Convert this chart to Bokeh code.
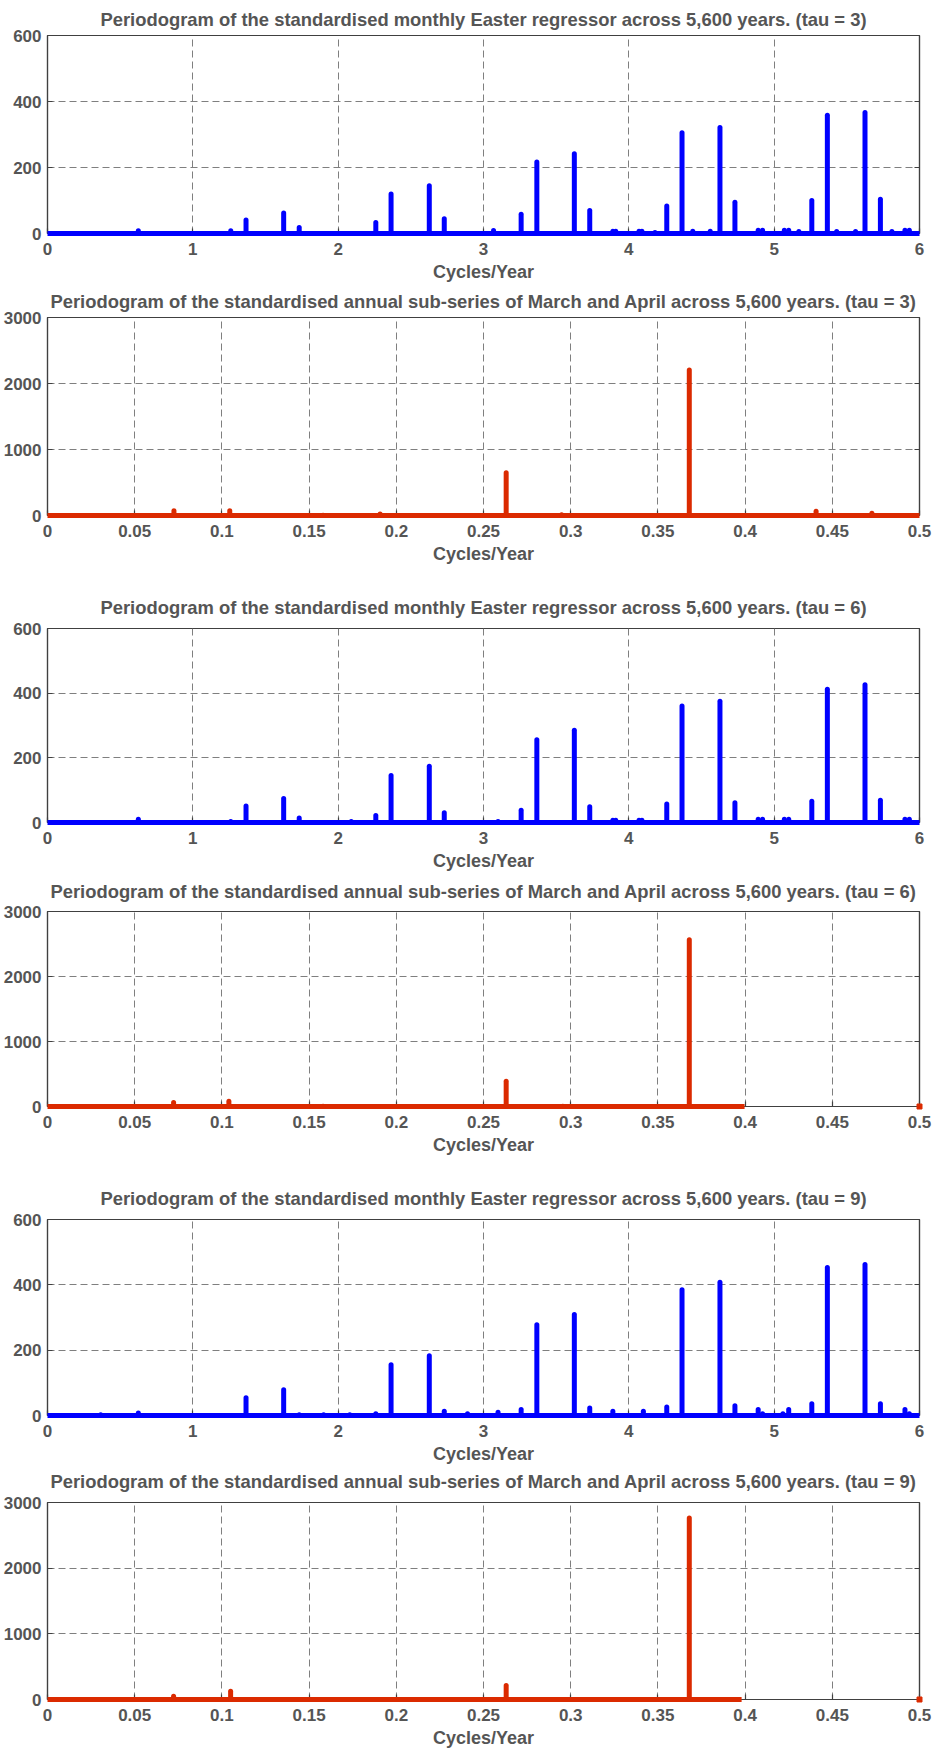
from bokeh.plotting import figure
from bokeh.models import LinearAxis, FixedTicker, Range1d
from bokeh.layouts import column
from bokeh.embed import file_html
from bokeh.resources import INLINE

FONT = "Liberation Sans"
TEXT = "#555555"
FRAME = "#404040"
GRID = "#7f7f7f"
BLUE = "#0000ff"
RED = "#db2a00"

BLUE_TITLE = "Periodogram of the standardised monthly Easter regressor across 5,600 years. (tau = {})"
RED_TITLE = "Periodogram of the standardised annual sub-series of March and April across 5,600 years. (tau = {})"
X_LABEL = "Cycles/Year"

# ---------------- axes ----------------
blue_x_ticks = [0, 1, 2, 3, 4, 5, 6]
blue_y_ticks = [0, 200, 400, 600]
red_x_ticks = [0, 0.05, 0.1, 0.15, 0.2, 0.25, 0.3, 0.35, 0.4, 0.45, 0.5]
red_x_labels = ["0", "0.05", "0.1", "0.15", "0.2", "0.25", "0.3", "0.35", "0.4", "0.45", "0.5"]
red_y_ticks = [0, 1000, 2000, 3000]

# ---------------- monthly Easter regressor periodograms (blue) ----------------
blue_span = [0, 6]

blue_f_tau3 = [0.625, 1.261, 1.366, 1.625, 1.732, 2.259, 2.364, 2.627, 2.730, 3.069, 3.259, 3.367,
               3.625, 3.731, 3.89, 3.91, 4.07, 4.09, 4.18, 4.261, 4.366, 4.44, 4.56, 4.627, 4.730,
               4.89, 4.92, 5.07, 5.10, 5.17, 5.259, 5.366, 5.43, 5.56, 5.625, 5.731, 5.81, 5.90, 5.93]
blue_v_tau3 = [8, 8, 41, 62, 18, 33, 120, 145, 45, 9, 58, 217,
               242, 70, 7, 7, 7, 7, 3, 83, 305, 7, 7, 321, 95,
               10, 10, 10, 10, 6, 100, 358, 6, 6, 367, 104, 6, 10, 10]

blue_f_tau6 = [0.625, 1.261, 1.366, 1.625, 1.732, 2.09, 2.259, 2.364, 2.627, 2.730, 3.10, 3.259,
               3.367, 3.625, 3.731, 3.89, 3.91, 4.07, 4.09, 4.261, 4.366, 4.627, 4.730, 4.89,
               4.92, 5.07, 5.10, 5.259, 5.366, 5.625, 5.731, 5.90, 5.93]
blue_v_tau6 = [10, 3, 51, 74, 14, 3, 22, 145, 174, 30, 3, 38,
               256, 285, 49, 7, 7, 7, 7, 57, 360, 375, 61, 10,
               10, 10, 10, 66, 412, 426, 69, 10, 10]

blue_f_tau9 = [0.366, 0.625, 1.366, 1.625, 1.732, 1.90, 2.08, 2.259, 2.364, 2.627, 2.730, 2.89,
               3.10, 3.259, 3.367, 3.625, 3.731, 3.89, 4.10, 4.261, 4.366, 4.627, 4.730, 4.89,
               4.92, 5.06, 5.10, 5.259, 5.366, 5.625, 5.731, 5.90, 5.93]
blue_v_tau9 = [2, 8, 54, 79, 2, 2, 2, 5, 155, 183, 13, 5,
               10, 18, 278, 309, 23, 13, 13, 26, 385, 408, 30, 18,
               5, 5, 18, 36, 453, 462, 36, 18, 5]

# ---------------- annual March/April sub-series periodograms (red) ----------------
red_span_tau3 = [0, 0.5]
red_f_tau3 = [0.0725, 0.1045, 0.158, 0.1907, 0.263, 0.2948, 0.368, 0.4407, 0.4727]
red_v_tau3 = [73, 73, 5, 23, 648, 13, 2203, 63, 33]
red_iso_f_tau3 = []
red_iso_v_tau3 = []

red_span_tau6 = [0, 0.3997]
red_f_tau6 = [0.0723, 0.104, 0.158, 0.263, 0.2955, 0.368]
red_v_tau6 = [60, 80, 5, 390, 5, 2564]
red_iso_f_tau6 = [0.5]
red_iso_v_tau6 = [0]

red_span_tau9 = [0, 0.398]
red_f_tau9 = [0.0723, 0.105, 0.263, 0.368]
red_v_tau9 = [48, 124, 214, 2765]
red_iso_f_tau9 = [0.5]
red_iso_v_tau9 = [0]

# ---------------- layout (pixels) ----------------
WIDTH = 934
FIG_H = [284, 282, 307, 284, 309, 284]
B_TOP = [35, 33, 62, 38, 62, 36]
B_BOT = [49, 49, 49, 49, 49, 49]
TITLE_GAP = [5, 5, 10, 9, 10, 10]   # space between frame and title box


def style_axis(ax, size="17px", standoff=6):
    ax.major_tick_in = 5
    ax.major_tick_out = 0
    ax.minor_tick_in = 0
    ax.minor_tick_out = 0
    ax.axis_line_color = FRAME
    ax.axis_line_width = 1.2
    ax.major_tick_line_color = FRAME
    ax.major_tick_line_width = 1.2
    ax.major_label_text_font = FONT
    ax.major_label_text_font_style = "bold"
    ax.major_label_text_font_size = size
    ax.major_label_text_color = TEXT
    ax.major_label_standoff = standoff


def make_panel(i, title, xmax, ymax, xticks, yticks, xlabels, color, span, f, v, iso_f, iso_v):
    p = figure(width=WIDTH, height=FIG_H[i], output_backend="svg", toolbar_location=None,
               x_range=Range1d(0, xmax), y_range=Range1d(0, ymax),
               min_border_left=45, min_border_right=15,
               min_border_top=B_TOP[i], min_border_bottom=B_BOT[i])
    p.title.text = title
    p.title.align = "center"
    p.title.text_font = FONT
    p.title.text_font_style = "bold"
    p.title.text_font_size = "18.4px"
    p.title.text_color = TEXT
    p.title.standoff = 2

    p.outline_line_color = FRAME
    p.outline_line_width = 1.2
    p.background_fill_color = "white"
    p.border_fill_color = "white"

    p.xaxis.ticker = FixedTicker(ticks=xticks)
    p.yaxis.ticker = FixedTicker(ticks=yticks)
    if xlabels is not None:
        p.xaxis.major_label_overrides = {t: s for t, s in zip(xticks, xlabels)}
    style_axis(p.xaxis[0], "17px", 9)
    style_axis(p.yaxis[0], "17px", 6)
    p.xaxis.axis_label = X_LABEL
    p.xaxis.axis_label_text_font = FONT
    p.xaxis.axis_label_text_font_style = "bold"
    p.xaxis.axis_label_text_font_size = "18px"
    p.xaxis.axis_label_text_color = TEXT
    p.xaxis.axis_label_standoff = 4

    # inward ticks on the right (box style)
    ra = LinearAxis(ticker=FixedTicker(ticks=yticks))
    style_axis(ra, "0px", 0)
    ra.major_label_text_alpha = 0
    p.add_layout(ra, "right")

    # top: invisible axis used as spacer between the frame and the title
    ta = LinearAxis(ticker=FixedTicker(ticks=xticks))
    style_axis(ta, "0px", 0)
    ta.major_label_text_alpha = 0
    ta.major_tick_in = 0
    ta.major_tick_out = TITLE_GAP[i]
    ta.major_tick_line_alpha = 0
    ta.axis_line_alpha = 0
    p.add_layout(ta, "above")

    for g in (p.xgrid[0], p.ygrid[0]):
        g.grid_line_color = GRID
        g.grid_line_dash = "7 4"
        g.grid_line_width = 1

    p.line(x=span, y=[0, 0], line_color=color, line_width=5, line_cap="butt", level="overlay")
    p.segment(x0=f, y0=[0] * len(f), x1=f, y1=v, line_color=color, line_width=5,
              line_cap="round", level="overlay")
    if iso_f:
        p.scatter(x=iso_f, y=iso_v, marker="square", size=5, color=color, level="overlay")
    return p


panels = [
    make_panel(0, BLUE_TITLE.format(3), 6, 600, blue_x_ticks, blue_y_ticks, None, BLUE,
               blue_span, blue_f_tau3, blue_v_tau3, [], []),
    make_panel(1, RED_TITLE.format(3), 0.5, 3000, red_x_ticks, red_y_ticks, red_x_labels, RED,
               red_span_tau3, red_f_tau3, red_v_tau3, red_iso_f_tau3, red_iso_v_tau3),
    make_panel(2, BLUE_TITLE.format(6), 6, 600, blue_x_ticks, blue_y_ticks, None, BLUE,
               blue_span, blue_f_tau6, blue_v_tau6, [], []),
    make_panel(3, RED_TITLE.format(6), 0.5, 3000, red_x_ticks, red_y_ticks, red_x_labels, RED,
               red_span_tau6, red_f_tau6, red_v_tau6, red_iso_f_tau6, red_iso_v_tau6),
    make_panel(4, BLUE_TITLE.format(9), 6, 600, blue_x_ticks, blue_y_ticks, None, BLUE,
               blue_span, blue_f_tau9, blue_v_tau9, [], []),
    make_panel(5, RED_TITLE.format(9), 0.5, 3000, red_x_ticks, red_y_ticks, red_x_labels, RED,
               red_span_tau9, red_f_tau9, red_v_tau9, red_iso_f_tau9, red_iso_v_tau9),
]

layout = column(*panels, spacing=0)
open("out.html", "w").write(file_html(layout, INLINE))
